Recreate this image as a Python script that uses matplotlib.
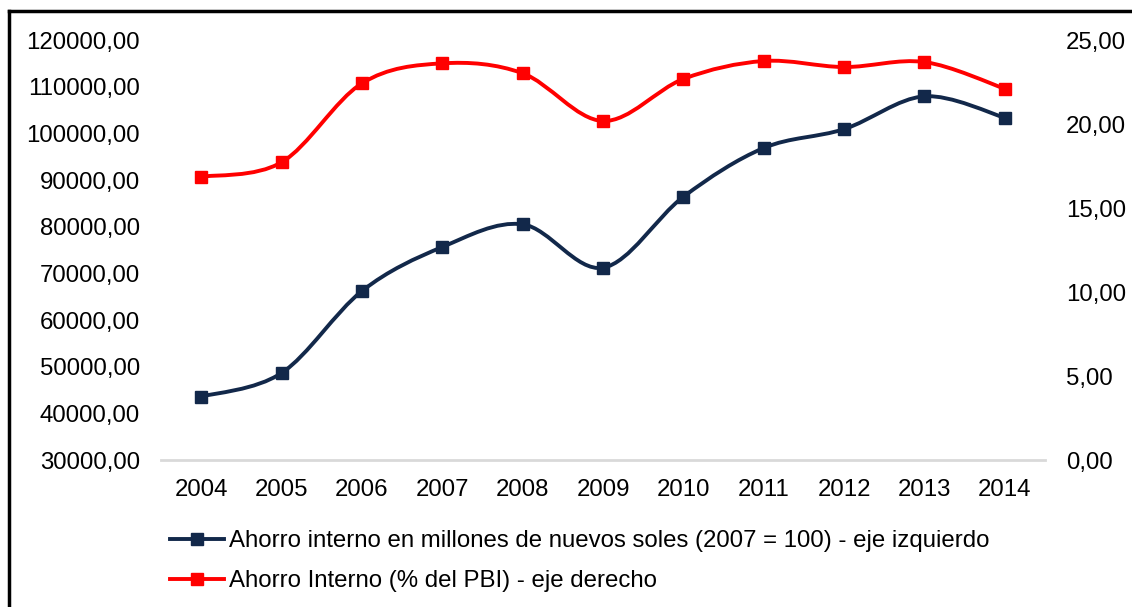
import matplotlib
matplotlib.use("Agg")
import matplotlib.pyplot as plt
from matplotlib.path import Path
from matplotlib.patches import PathPatch
from matplotlib.lines import Line2D

plt.rcParams['font.family'] = ['Liberation Sans', 'DejaVu Sans']

years = ["2004", "2005", "2006", "2007", "2008", "2009", "2010", "2011", "2012", "2013", "2014"]
ahorro_millones = [43570, 48640, 66200, 75640, 80500, 71200, 86400, 96860, 100900, 107930, 103350]
ahorro_pbi = [16.86, 17.72, 22.42, 23.61, 23.02, 20.18, 22.68, 23.75, 23.39, 23.69, 22.10]

label_left = "Ahorro interno en millones de nuevos soles (2007 = 100) - eje izquierdo"
label_right = "Ahorro Interno (% del PBI) - eje derecho"

navy = "#12284A"
red = "#FF0000"
fs = 17.3


def smooth_path(xs, ys):
    # Excel-style smoothed line: cubic Bezier with Catmull-Rom control points
    n = len(xs)
    verts = [(xs[0], ys[0])]
    codes = [Path.MOVETO]
    for i in range(n - 1):
        x0, y0 = (xs[i - 1], ys[i - 1]) if i > 0 else (xs[i], ys[i])
        x3, y3 = (xs[i + 2], ys[i + 2]) if i + 2 < n else (xs[i + 1], ys[i + 1])
        c1 = (xs[i] + (xs[i + 1] - x0) / 6, ys[i] + (ys[i + 1] - y0) / 6)
        c2 = (xs[i + 1] - (x3 - xs[i]) / 6, ys[i + 1] - (y3 - ys[i]) / 6)
        verts += [c1, c2, (xs[i + 1], ys[i + 1])]
        codes += [Path.CURVE4] * 3
    return Path(verts, codes)


fig = plt.figure(figsize=(11.32, 6.07), dpi=100)
ax = fig.add_axes([161 / 1132, 1 - 460 / 607, 884 / 1132, 420 / 607])
ax2 = ax.twinx()

x = list(range(len(years)))

ax.add_patch(PathPatch(smooth_path(x, ahorro_millones), fill=False, edgecolor=navy, lw=2.8, zorder=3))
ax.plot(x, ahorro_millones, 's', color=navy, markersize=8.5, zorder=4)
ax2.add_patch(PathPatch(smooth_path(x, ahorro_pbi), fill=False, edgecolor=red, lw=2.8, zorder=3))
ax2.plot(x, ahorro_pbi, 's', color=red, markersize=8.5, zorder=4)

ax.set_xlim(-0.5, len(years) - 0.5)
ax.set_ylim(30000, 120000)
ax.set_yticks(range(30000, 120001, 10000))
ax.set_yticklabels([f"{v},00" for v in range(30000, 120001, 10000)])
ax2.set_ylim(0, 25)
ax2.set_yticks(range(0, 26, 5))
ax2.set_yticklabels([f"{v},00" for v in range(0, 26, 5)])
ax.set_xticks(x)
ax.set_xticklabels(years)

for a in (ax, ax2):
    for s in a.spines.values():
        s.set_visible(False)
ax.spines['bottom'].set_visible(True)
ax.spines['bottom'].set_color("#D9D9D9")
ax.spines['bottom'].set_linewidth(2)

ax.tick_params(axis='y', length=0, pad=15, labelsize=fs)
ax2.tick_params(axis='y', length=0, pad=15, labelsize=fs)
ax.tick_params(axis='x', length=0, pad=14, labelsize=fs)

handles = [
    Line2D([], [], color=navy, lw=2.8, marker='s', markersize=8.5),
    Line2D([], [], color=red, lw=2.8, marker='s', markersize=8.5),
]
fig.legend(handles, [label_left, label_right], loc='upper left',
           bbox_to_anchor=(170 / 1132, 1 - 530 / 607), frameon=False,
           fontsize=fs, handlelength=2.25, handletextpad=0.22,
           labelspacing=0.75, borderaxespad=0, borderpad=0)

# outer frame (left and top edges visible)
fig.add_artist(Line2D([9 / 1132, 9 / 1132], [0, 1 - 11 / 607], color="black", lw=2.5))
fig.add_artist(Line2D([9 / 1132, 1], [1 - 11 / 607, 1 - 11 / 607], color="black", lw=2.5))

fig.savefig("out.png", dpi=100)
